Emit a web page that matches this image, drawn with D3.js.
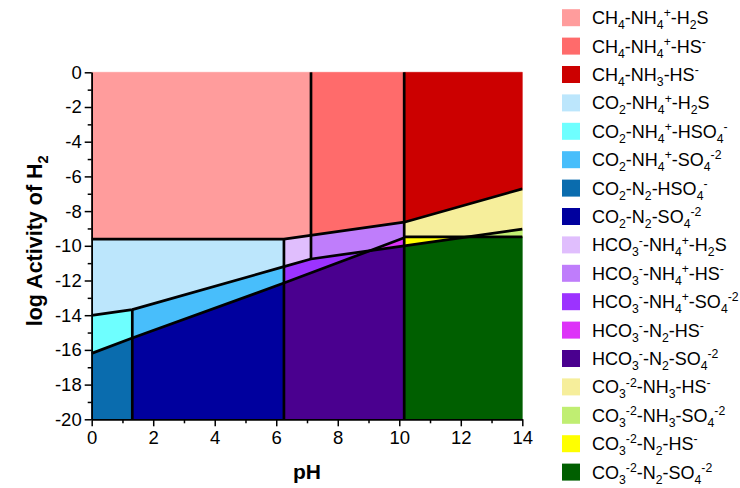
<!DOCTYPE html>
<html><head><meta charset="utf-8">
<script src="https://cdn.jsdelivr.net/npm/d3@7"></script>
<style>
body{margin:0;background:#fff}
text{font-family:"Liberation Sans",Arial,Helvetica,sans-serif;fill:#000}
</style>
</head><body>
<svg id="chart" width="740" height="488"></svg>
<script>
// ---- boundary lines, [pH, log aH2] ----
const ch4Boundary      = [[0,-9.62],[6.25,-9.62],[10.16,-8.64],[14,-6.72]];
const sulfurBoundary   = [[0,-14.01],[1.32,-13.68],[6.25,-11.2],[7.13,-10.76],[10.16,-10.0],[14,-9.04]];
const nitrogenBoundary = [[0,-16.2],[1.32,-15.32],[6.25,-12.15],[10.16,-9.54]];
const nh3Boundary      = [[10.16,-9.48],[14,-9.48]];
const topEdge          = [[0,0],[14,0]];
const bottomEdge       = [[0,-20],[14,-20]];
const pHDividers       = [1.32, 6.25, 7.13, 10.16];

// ---- axis ticks ----
const xMajorTicks = [0,2,4,6,8,10,12,14];
const xMinorTicks = [1,3,5,7,9,11,13];
const yMajorTicks = [0,-2,-4,-6,-8,-10,-12,-14,-16,-18,-20];
const yMinorTicks = [-1,-3,-5,-7,-9,-11,-13,-15,-17,-19];

// ---- species fields (legend) ----
const speciesLabels = [
  "CH{_4}-NH{_4}{^+}-H{_2}S",
  "CH{_4}-NH{_4}{^+}-HS{^-}",
  "CH{_4}-NH{_3}-HS{^-}",
  "CO{_2}-NH{_4}{^+}-H{_2}S",
  "CO{_2}-NH{_4}{^+}-HSO{_4}{^-}",
  "CO{_2}-NH{_4}{^+}-SO{_4}{^-2}",
  "CO{_2}-N{_2}-HSO{_4}{^-}",
  "CO{_2}-N{_2}-SO{_4}{^-2}",
  "HCO{_3}{^-}-NH{_4}{^+}-H{_2}S",
  "HCO{_3}{^-}-NH{_4}{^+}-HS{^-}",
  "HCO{_3}{^-}-NH{_4}{^+}-SO{_4}{^-2}",
  "HCO{_3}{^-}-N{_2}-HS{^-}",
  "HCO{_3}{^-}-N{_2}-SO{_4}{^-2}",
  "CO{_3}{^-2}-NH{_3}-HS{^-}",
  "CO{_3}{^-2}-NH{_3}-SO{_4}{^-2}",
  "CO{_3}{^-2}-N{_2}-HS{^-}",
  "CO{_3}{^-2}-N{_2}-SO{_4}{^-2}"
];
const speciesColors = [
  "#FF9C9C","#FF6B6B","#CC0000","#BCE6FC","#6EFFFF","#48BEFB","#0A6CAE","#00009E",
  "#E0BEFD","#BF7DFB","#9C33FF","#DD33F8","#4A008F","#F6EE9B","#C0EE72","#FFFF00","#005F00"
];
// region extents: [pH from, pH to], upper / lower boundary
const regionPH = [[0,7.13],[7.13,10.16],[10.16,14],[0,6.25],[0,1.32],[1.32,6.25],[0,1.32],[1.32,6.25],
  [6.25,7.13],[7.13,10.16],[6.25,10.16],[6.25,10.16],[6.25,10.16],[10.16,14],[10.16,14],[10.16,14],[10.16,14]];
const regionUpper = [["top"],["top"],["top"],["ch4"],["s"],["s"],["n"],["n"],
  ["ch4"],["ch4"],["s"],["n"],["min","s","n"],["ch4"],["max","s","nh3"],["nh3"],["min","s","nh3"]];
const regionLower = [["ch4"],["ch4"],["ch4"],["s"],["n"],["n"],["bottom"],["bottom"],
  ["s"],["max","s","n"],["min","s","n"],["min","s","n"],["bottom"],["max","s","nh3"],["nh3"],["min","s","nh3"],["bottom"]];

const lines = {top:topEdge, bottom:bottomEdge, ch4:ch4Boundary, s:sulfurBoundary, n:nitrogenBoundary, nh3:nh3Boundary};

// ---- layout ----
const svg = d3.select("#chart");
const x = d3.scaleLinear().domain([0,14]).range([91.7,522.3]);
const y = d3.scaleLinear().domain([0,-20]).range([72.3,419.3]);

function evalLine(pts, v){
  for(let i=0;i<pts.length-1;i++){
    const [x0,y0]=pts[i],[x1,y1]=pts[i+1];
    if(v>=x0-1e-9 && v<=x1+1e-9) return y0+(y1-y0)*(v-x0)/(x1-x0);
  }
  return v<pts[0][0]?pts[0][1]:pts[pts.length-1][1];
}
function evalSpec(spec, v){
  if(spec.length===1) return evalLine(lines[spec[0]], v);
  const a=evalLine(lines[spec[1]],v), b=evalLine(lines[spec[2]],v);
  return spec[0]==="min"?Math.min(a,b):Math.max(a,b);
}
function specLines(spec){ return spec.length===1?[spec[0]]:[spec[1],spec[2]]; }

function regionPolygon(k){
  const [xa,xb]=regionPH[k];
  const names=[...new Set(specLines(regionUpper[k]).concat(specLines(regionLower[k])))];
  let xs=[xa,xb];
  names.forEach(nm=>lines[nm].forEach(p=>{ if(p[0]>xa&&p[0]<xb) xs.push(p[0]); }));
  xs=[...new Set(xs)].sort((a,b)=>a-b);
  const extra=[];
  for(let i=0;i<xs.length-1;i++){
    for(let p=0;p<names.length;p++) for(let q=p+1;q<names.length;q++){
      const d0=evalLine(lines[names[p]],xs[i])-evalLine(lines[names[q]],xs[i]);
      const d1=evalLine(lines[names[p]],xs[i+1])-evalLine(lines[names[q]],xs[i+1]);
      if(d0*d1<0) extra.push(xs[i]+(xs[i+1]-xs[i])*d0/(d0-d1));
    }
  }
  xs=xs.concat(extra).sort((a,b)=>a-b);
  const upper=xs.map(v=>[v,evalSpec(regionUpper[k],v)]);
  const lower=xs.map(v=>[v,evalSpec(regionLower[k],v)]).reverse();
  return upper.concat(lower);
}

const gRegions=svg.append("g");
speciesLabels.forEach((lab,k)=>{
  gRegions.append("path")
    .attr("d", d3.line().x(d=>x(d[0])).y(d=>y(d[1]))(regionPolygon(k))+"Z")
    .attr("fill", speciesColors[k]).attr("stroke", speciesColors[k]).attr("stroke-width",0.6);
});

// boundary lines
const gLines=svg.append("g").attr("fill","none").attr("stroke","#000").attr("stroke-width",2.7)
  .attr("stroke-linejoin","round");
const lineGen=d3.line().x(d=>x(d[0])).y(d=>y(d[1]));
[ch4Boundary,sulfurBoundary,nitrogenBoundary,nh3Boundary].forEach(p=>gLines.append("path").attr("d",lineGen(p)));
const vSegs=[
  [[pHDividers[0],evalLine(sulfurBoundary,pHDividers[0])],[pHDividers[0],-20]],
  [[pHDividers[1],evalLine(ch4Boundary,pHDividers[1])],[pHDividers[1],-20]],
  [[pHDividers[2],0],[pHDividers[2],evalLine(sulfurBoundary,pHDividers[2])]],
  [[pHDividers[3],0],[pHDividers[3],-20]]
];
vSegs.forEach(p=>gLines.append("path").attr("d",lineGen(p)));

// axes
function styleAxis(g){
  g.selectAll("path.domain").attr("stroke","#000").attr("stroke-width",1.5);
  g.selectAll(".tick line").attr("stroke","#000").attr("stroke-width",1.5);
  g.selectAll(".tick text").attr("font-size","18.5px").attr("fill","#000")
    .attr("font-family","'Liberation Sans',Arial,sans-serif");
}
const yAxisMinor=svg.append("g").attr("transform",`translate(${x(0)},0)`)
  .call(d3.axisLeft(y).tickValues(yMinorTicks).tickSize(4).tickSizeOuter(0).tickFormat(""));
styleAxis(yAxisMinor);
const yAxis=svg.append("g").attr("transform",`translate(${x(0)},0)`)
  .call(d3.axisLeft(y).tickValues(yMajorTicks).tickSize(7).tickSizeOuter(0).tickPadding(3).tickFormat(d3.format("d")));
styleAxis(yAxis);
yAxis.selectAll(".tick text").text(d=>d<0?"-"+Math.abs(d):d);
const xAxisMinor=svg.append("g").attr("transform",`translate(0,${y(-20)})`)
  .call(d3.axisBottom(x).tickValues(xMinorTicks).tickSize(4).tickSizeOuter(0).tickFormat(""));
styleAxis(xAxisMinor);
const xAxis=svg.append("g").attr("transform",`translate(0,${y(-20)})`)
  .call(d3.axisBottom(x).tickValues(xMajorTicks).tickSize(7).tickSizeOuter(0).tickPadding(5));
styleAxis(xAxis);

// rich text helper
function richText(sel, str, size){
  const parts=str.split(/(\{[_^][^}]*\})/).filter(s=>s.length);
  let shift=0;
  parts.forEach(p=>{
    const m=p.match(/^\{([_^])([^}]*)\}$/);
    let target=0, txt=p, fs=size;
    if(m){ target = m[1]==="_" ? size*0.28 : -size*0.38; txt=m[2]; fs=size*0.68; }
    sel.append("tspan").attr("dy",target-shift).attr("font-size",fs+"px").text(txt);
    shift=target;
  });
}

// axis titles
const xt=svg.append("text").attr("x",(x(0)+x(14))/2).attr("y",479).attr("text-anchor","middle")
  .attr("font-weight","bold").attr("font-size","21px");
richText(xt,"pH",21);
const yt=svg.append("text").attr("transform",`translate(42,${(y(0)+y(-20))/2-5}) rotate(-90)`)
  .attr("text-anchor","middle").attr("font-weight","bold").attr("font-size","21.5px");
richText(yt,"log Activity of H{_2}",21.5);

// legend
const lg=svg.append("g");
speciesLabels.forEach((lab,k)=>{
  const cy=17.7+k*28.4;
  lg.append("rect").attr("x",562).attr("y",cy-8.5).attr("width",18).attr("height",17).attr("fill",speciesColors[k]);
  const t=lg.append("text").attr("x",592).attr("y",cy+6.5).attr("font-size","18px");
  richText(t,lab,18);
});
</script>
</body></html>
